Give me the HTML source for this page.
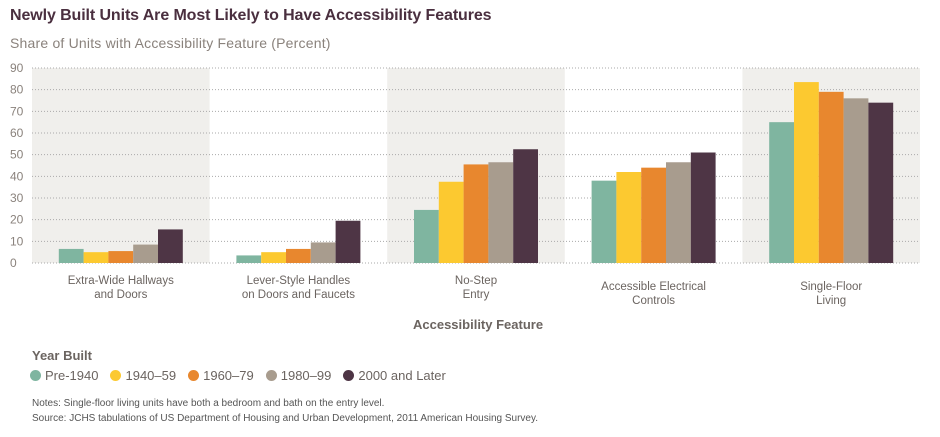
<!DOCTYPE html>
<html><head><meta charset="utf-8"><style>
body{margin:0;background:#fff;font-family:"Liberation Sans",sans-serif;}
#wrap{position:relative;width:940px;height:437px;overflow:hidden;}
.t{position:absolute;white-space:nowrap;}
</style></head><body>
<div id="wrap">
<div class="t" style="left:10px;top:7px;font-size:16px;letter-spacing:-0.1px;font-weight:bold;color:#4a2f3f;">Newly Built Units Are Most Likely to Have Accessibility Features</div>
<div class="t" style="left:10px;top:35px;font-size:14px;letter-spacing:0.2px;color:#8a827c;">Share of Units with Accessibility Feature (Percent)</div>
<svg id="chart" width="940" height="340" style="position:absolute;left:0;top:0;"></svg>
<div class="t" style="left:413px;top:317px;font-size:13px;font-weight:bold;color:#6b6460;">Accessibility Feature</div>
<div class="t" style="left:32px;top:348px;font-size:13px;font-weight:bold;color:#6b6460;">Year Built</div>
<div id="legend" style="position:absolute;left:30px;top:368px;font-size:13px;color:#6b6460;display:flex;gap:12px;"></div>
<div class="t" style="left:32px;top:398px;font-size:10px;color:#555;">Notes: Single-floor living units have both a bedroom and bath on the entry level.</div>
<div class="t" style="left:32px;top:413px;font-size:10px;color:#555;">Source: JCHS tabulations of US Department of Housing and Urban Development, 2011 American Housing Survey.</div>
</div>
<script>
const categories=[["Extra-Wide Hallways","and Doors"],["Lever-Style Handles","on Doors and Faucets"],["No-Step","Entry"],["Accessible Electrical","Controls"],["Single-Floor","Living"]];
const seriesNames=["Pre-1940","1940–59","1960–79","1980–99","2000 and Later"];
const pre1940=[6.5,3.5,24.5,38,65];
const y1940=[5,5,37.5,42,83.5];
const y1960=[5.5,6.5,45.5,44,79];
const y1980=[8.5,9.5,46.5,46.5,76];
const y2000=[15.5,19.5,52.5,51,74];
const yTicks=[0,10,20,30,40,50,60,70,80,90];
const series=[pre1940,y1940,y1960,y1980,y2000];
const colors=["#7fb5a0","#fcc930","#e8872e","#a89c8e","#4e3545"];
const NS="http://www.w3.org/2000/svg";
const svg=document.getElementById('chart');
const x0=32,x1=920,yb=263,yt=68,maxV=90;
const bw=(x1-x0)/categories.length;
const y=v=>yb-(v/maxV)*(yb-yt);
function mk(t,a){const e=document.createElementNS(NS,t);for(const k in a)e.setAttribute(k,a[k]);svg.appendChild(e);return e;}
categories.forEach((c,i)=>{if(i%2==0){const r=mk('rect',{x:x0+i*bw,y:yt,width:bw,height:yb-yt,fill:'#f0efec'});

}});
yTicks.forEach(v=>{const l=mk('line',{x1:x0,x2:x1,y1:y(v),y2:y(v),stroke:'#aaa','stroke-dasharray':'1,2','stroke-width':1});


const t=mk('text',{x:10,y:y(v)+4,'font-size':12,fill:'#8a827c'});t.textContent=v;

});
const barW=24.8;
categories.forEach((c,i)=>{const cx=x0+(i+0.5)*bw;
series.forEach((s,j)=>{const bx=cx-2.5*barW+j*barW;const r=mk('rect',{x:bx,y:y(s[i]),width:barW,height:yb-y(s[i]),fill:colors[j]});

});
const ly=i>=3?290:284;
c.forEach((ln,k)=>{const t=mk('text',{x:cx,y:ly+k*14,'text-anchor':'middle','font-size':11.5,fill:'#6b6460'});t.textContent=ln;

});});
const lg=document.getElementById('legend');
seriesNames.forEach((n,j)=>{const d=document.createElement('span');


d.innerHTML='<span style="display:inline-block;width:11px;height:11px;border-radius:50%;background:'+colors[j]+';margin-right:4px;vertical-align:-1px"></span>'+n;lg.appendChild(d);});
</script>
</body></html>
